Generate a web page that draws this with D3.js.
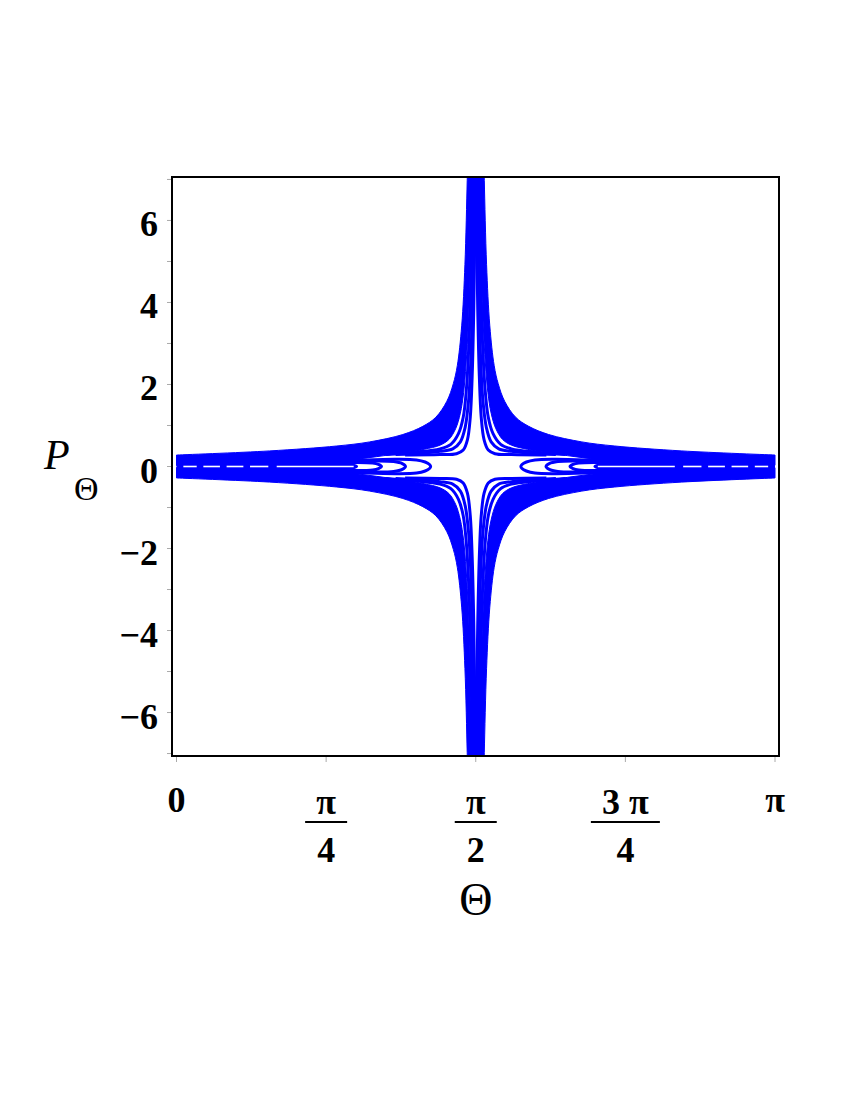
<!DOCTYPE html>
<html><head><meta charset="utf-8">
<script src="https://cdn.jsdelivr.net/npm/d3@7"></script>
<style>body{margin:0;background:#fff} svg{display:block}</style>
</head><body>
<svg id="c" width="850" height="1100"></svg>
<script>
const PI = Math.PI;
// ---- ticks ----
const xTicks = [0, PI/4, PI/2, 3*PI/4, PI];
const xTickNum = ["0", "π", "π", "3 π", "π"];
const xTickDen = [null, "4", "2", "4", null];
const yTicks = [-6, -4, -2, 0, 2, 4, 6];
const yMinorTicks = [-7, -5, -3, -1, 1, 3, 5, 7];
const xTitle = "Θ";
const yTitle = "P";
const yTitleSub = "Θ";

// ---- curves, upper-left quadrant [Θ, P_Θ]; the plot is symmetric in Θ -> π-Θ and P -> -P ----
const bandOuter = [[0,0.28],[0.489,0.38],[0.841,0.50],[1.014,0.60],[1.188,0.78],[1.293,0.98],[1.361,1.2],[1.419,1.59],[1.453,2.02],[1.474,2.46],[1.497,3.43],[1.514,4.93],[1.526,6.98],[1.530,7.8]];
const bandInner = [[0,0.03],[0.5,0.04],[0.75,0.07],[0.9,0.15],[1.05,0.24],[1.2,0.34],[1.3,0.42],[1.383,0.52],[1.43,0.66],[1.465,0.92],[1.49,1.3],[1.507,1.8],[1.52,2.5],[1.532,3.5],[1.543,5],[1.552,7.8]];
const sep1 = [[1.1,0.29],[1.25,0.35],[1.383,0.43],[1.44,0.54],[1.48,0.8],[1.505,1.2],[1.522,1.9],[1.535,3],[1.545,4.5],[1.555,7.8]];
const sep2 = [[1.15,0.29],[1.3,0.33],[1.383,0.37],[1.45,0.43],[1.49,0.6],[1.515,0.95],[1.533,1.6],[1.545,2.6],[1.553,4],[1.56,7.8]];
const sep3 = [[1.2,0.28],[1.383,0.29],[1.47,0.31],[1.505,0.4],[1.527,0.65],[1.542,1.2],[1.552,2.2],[1.559,3.5],[1.564,5],[1.568,7.8]];
const loopD = [[0,0.10],[0.5,0.11],[0.9,0.15],[1.15,0.175],[1.26,0.16],[1.305,0.11],[1.328,0.05],[1.334,0]];
const loopC = [[0,0.075],[0.5,0.08],[0.85,0.11],[1.05,0.135],[1.14,0.12],[1.185,0.07],[1.202,0]];
const loopB = [[0,0.05],[0.5,0.055],[0.8,0.075],[0.95,0.1],[1.03,0.085],[1.06,0.05],[1.076,0]];
const loopA = [[0,0.025],[0.5,0.03],[0.8,0.045],[0.9,0.045],[0.932,0.025],[0.945,0]];
// white gaps along P = 0 (interior of innermost loop), [Θ start, Θ end]
const gaps = [[0.036,0.106],[0.141,0.228],[0.263,0.351],[0.386,0.482],[0.526,0.93]];

// ---- layout ----
const svg = d3.select("#c");
const frame = {x0:172, x1:779, y0:177, y1:756};
const x = d3.scaleLinear().domain([0, PI]).range([176.5, 775]);
const y = d3.scaleLinear().domain([-7.06, 7.06]).range([frame.y1, frame.y0]);
const BLUE = "#0000ff";
const FONT = "'Liberation Serif','Times New Roman',serif";

svg.append("defs").append("clipPath").attr("id","clip")
  .append("rect").attr("x",frame.x0).attr("y",frame.y0)
  .attr("width",frame.x1-frame.x0).attr("height",frame.y1-frame.y0);

const plot = svg.append("g").attr("clip-path","url(#clip)");
const line = d3.line().x(d=>x(d[0])).y(d=>y(d[1])).curve(d3.curveCatmullRom.alpha(0.5));
const quads = [[1,1],[-1,1],[1,-1],[-1,-1]];
const tf = (pts, q) => pts.map(p => [q[0] > 0 ? p[0] : PI - p[0], q[1]*p[1]]);

// band
quads.forEach(q => {
  const o = tf(bandOuter, q), i = tf(bandInner, q).reverse();
  const d = line(o) + line(i).replace(/^M/, "L") + "Z";
  plot.append("path").attr("d", d).attr("fill", BLUE).attr("stroke", BLUE).attr("stroke-width", 1);
});
// separate lines
[sep1, sep2, sep3].forEach(s => quads.forEach(q => {
  plot.append("path").attr("d", line(tf(s, q))).attr("fill","none")
    .attr("stroke", BLUE).attr("stroke-width", 3);
}));
// loops
[loopD, loopC, loopB, loopA].forEach(L => [1,-1].forEach(side => {
  const up = L, low = L.slice(0, -1).reverse().map(p => [p[0], -p[1]]);
  const pts = tf(up.concat(low), [side, 1]);
  plot.append("path").attr("d", line(pts)).attr("fill","none")
    .attr("stroke", BLUE).attr("stroke-width", 3);
}));
// white gaps
gaps.forEach(g => [1,-1].forEach(side => {
  const pts = tf([[g[0],0],[g[1],0]], [side,1]);
  plot.append("line").attr("x1", x(pts[0][0])).attr("x2", x(pts[1][0]))
    .attr("y1", y(0)).attr("y2", y(0)).attr("stroke","#fff").attr("stroke-width",1.6);
}));

// ticks
const TICK = "#aaaaaa";
xTicks.forEach(t => svg.append("line").attr("x1",x(t)).attr("x2",x(t))
  .attr("y1",frame.y1).attr("y2",frame.y1+6).attr("stroke",TICK).attr("stroke-width",1));
yTicks.concat(yMinorTicks).forEach(t => svg.append("line").attr("x1",frame.x0-5).attr("x2",frame.x0)
  .attr("y1",y(t)).attr("y2",y(t)).attr("stroke",TICK).attr("stroke-width",1));

// frame
svg.append("rect").attr("x",frame.x0).attr("y",frame.y0)
  .attr("width",frame.x1-frame.x0).attr("height",frame.y1-frame.y0)
  .attr("fill","none").attr("stroke","#000").attr("stroke-width",2);

// y tick labels
yTicks.forEach(t => svg.append("text").attr("x",158).attr("y",y(t)+16)
  .attr("text-anchor","end").attr("font-family",FONT).attr("font-weight","bold")
  .attr("font-size",36).text(t < 0 ? "−" + Math.abs(t) : String(t)));

// x tick labels
xTicks.forEach((t, k) => {
  const g = svg.append("g").attr("font-family",FONT).attr("font-weight","bold").attr("font-size",36).attr("text-anchor","middle");
  if (xTickDen[k] === null) {
    g.append("text").attr("x", x(t)).attr("y", 812).text(xTickNum[k]);
  } else {
    const n = g.append("text").attr("x", x(t)).attr("y", 814).text(xTickNum[k]);
    const dn = g.append("text").attr("x", x(t)).attr("y", 862).text(xTickDen[k]);
    const w = Math.max(n.node().getBBox().width, dn.node().getBBox().width) + 22;
    g.append("line").attr("x1", x(t)-w/2).attr("x2", x(t)+w/2).attr("y1", 822).attr("y2", 822)
      .attr("stroke","#000").attr("stroke-width",2);
  }
});

// titles
svg.append("text").attr("x", x(PI/2)).attr("y", 915).attr("text-anchor","middle")
  .attr("font-family",FONT).attr("font-size",46).text(xTitle);
svg.append("text").attr("x", 44).attr("y", 469).attr("font-family",FONT)
  .attr("font-style","italic").attr("font-size",42).text(yTitle);
svg.append("text").attr("x", 74).attr("y", 500).attr("font-family",FONT)
  .attr("font-size",34).text(yTitleSub);
</script>
</body></html>
